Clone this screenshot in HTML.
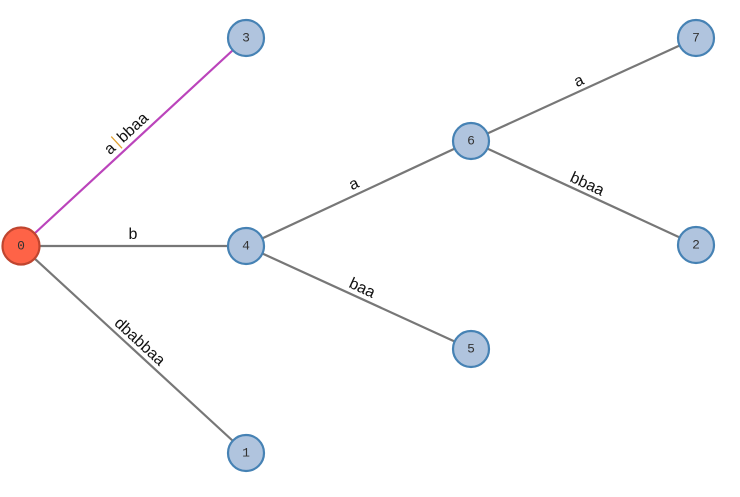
<!DOCTYPE html>
<html><head><meta charset="utf-8"><style>
html,body{margin:0;padding:0;background:#fff;}
svg{display:block;}
.e{stroke:#777;stroke-width:2.2;fill:none;}
.n{fill:#b0c4de;stroke:#4682b4;stroke-width:2.2;}
.nt{font-family:"Liberation Mono",monospace;font-size:13px;fill:#333;text-anchor:middle;dominant-baseline:central;}
.lt{font-family:"Liberation Sans",sans-serif;font-size:16px;fill:#111;text-anchor:middle;}
</style></head><body>
<svg width="740" height="497" viewBox="0 0 740 497" xmlns="http://www.w3.org/2000/svg">
<line x1="21" y1="246" x2="246" y2="38" stroke="#bb44bb" stroke-width="2.2"/>
<line class="e" x1="21" y1="246" x2="246" y2="246"/>
<line class="e" x1="21" y1="246" x2="246" y2="453"/>
<line class="e" x1="246" y1="246" x2="471" y2="141"/>
<line class="e" x1="246" y1="246" x2="471" y2="349"/>
<line class="e" x1="471" y1="141" x2="696" y2="38"/>
<line class="e" x1="471" y1="141" x2="696" y2="245"/>

<g transform="translate(133,141) rotate(-42.6)">
  <text class="lt" x="0" y="-5">a<tspan fill="#fff">_</tspan>bbaa</text>
  <line x1="-13" y1="-18" x2="-13" y2="-2" stroke="#e0a030" stroke-width="1.3"/>
</g>
<text class="lt" x="133" y="239">b</text>
<g transform="translate(133,349) rotate(42.6)"><text class="lt" x="0" y="-5">dbabbaa</text></g>
<g transform="translate(358,193) rotate(-24.8)"><text class="lt" x="0" y="-5">a</text></g>
<g transform="translate(358,297) rotate(24.8)"><text class="lt" x="0" y="-5">baa</text></g>
<g transform="translate(583,90) rotate(-24.6)"><text class="lt" x="0" y="-5">a</text></g>
<g transform="translate(583,193) rotate(24.8)"><text class="lt" x="0" y="-5">bbaa</text></g>

<circle cx="21" cy="246" r="18.5" fill="#fe6347" stroke="#c0452f" stroke-width="2.2"/>
<text class="nt" x="21" y="246">0</text>
<circle class="n" cx="246" cy="38" r="18"/><text class="nt" x="246" y="38">3</text>
<circle class="n" cx="246" cy="246" r="18"/><text class="nt" x="246" y="246">4</text>
<circle class="n" cx="246" cy="453" r="18"/><text class="nt" x="246" y="453">1</text>
<circle class="n" cx="471" cy="141" r="18"/><text class="nt" x="471" y="141">6</text>
<circle class="n" cx="471" cy="349" r="18"/><text class="nt" x="471" y="349">5</text>
<circle class="n" cx="696" cy="38" r="18"/><text class="nt" x="696" y="38">7</text>
<circle class="n" cx="696" cy="245" r="18"/><text class="nt" x="696" y="245">2</text>
</svg>
</body></html>
